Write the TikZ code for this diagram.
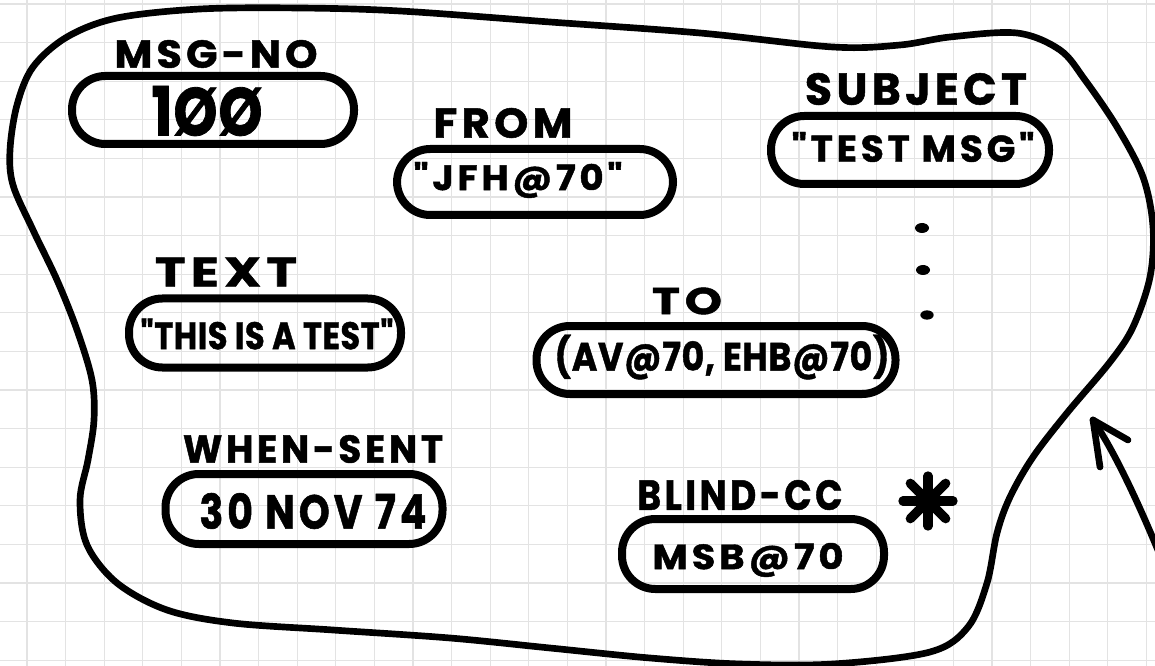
\documentclass[tikz,border=0pt]{standalone}
\usepackage{fontspec}
\usepackage{graphicx}
\newfontfamily\hand{Poppins}[LetterSpace=10, BoldFeatures={FakeBold=1.2}]
\newfontfamily\handn{Poppins}[LetterSpace=2, BoldFeatures={FakeBold=1.2}]
\newdimen\pxu \pxu=0.75pt
\newcommand\fitt[3]{\resizebox*{#1\pxu}{#2\pxu}{\hand\bfseries #3}}
\newcommand\fitn[3]{\resizebox*{#1\pxu}{#2\pxu}{\handn\bfseries #3}}
\tikzset{
  gridline/.style={draw=gray!22, line width=0.9pt},
  blob/.style={draw=black, line width=5pt, line join=round},
  pill/.style 2 args={draw=black, line width=6pt, rounded corners=25pt,
    minimum width={(#1-8)*0.75pt}, minimum height={(#2-8)*0.75pt}, inner sep=0pt},
  txt/.style={inner sep=0pt, outer sep=0pt},
  stroke/.style={draw=black, line width=5pt, line cap=round, line join=round},
}
\begin{document}
\begin{tikzpicture}[x=0.75pt,y=-0.75pt]
\useasboundingbox (0,0) rectangle (1155,666);
\fill[white] (0,0) rectangle (1155,666);
% graph paper
\foreach \i in {0,...,29} \draw[gridline] ({27+38.6*\i},0) -- ({27+38.6*\i},666);
\foreach \j in {0,...,17} \draw[gridline] (0,{4+38.6*\j}) -- (1155,{4+38.6*\j});
% outline of the record
\draw[blob] plot[smooth cycle, tension=0.55] coordinates {
 (10,150) (13,185) (33,230) (57,280) (77,330) (92,380) (94,420) (88,460) (80,500)
 (87,545) (117,583) (167,610) (233,623) (333,630) (450,638) (550,648) (650,658)
 (740,664) (833,664) (930,652) (968,627) (987,583) (997,533) (1010,497) (1033,457)
 (1067,413) (1110,362) (1133,327) (1150,277) (1153,227) (1143,177) (1117,127)
 (1085,80) (1060,50) (1017,33) (950,37) (900,45) (833,47) (700,33) (550,22)
 (400,11) (300,8) (200,9) (117,18) (67,37) (33,67) (17,105)};
% fields
\node[txt] (lmsg) at (216,54) {\fitt{203}{28}{MSG-NO}};
\node[pill={290}{76}] (bmsg) at (213,110) {};
\node[txt] (vmsg) at (207,111) {\fitn{111}{50}{1ØØ}};
\node[txt] (lfrom) at (503,123) {\fitt{139}{30}{FROM}};
\node[pill={284}{74}] (bfrom) at (535,182) {};
\node[txt] (vfrom) at (518,180) {\fitt{209}{36}{"JFH@70"}};
\node[txt] (lsubj) at (916,89) {\fitt{222}{32}{SUBJECT}};
\node[pill={286}{76}] (bsubj) at (910,150) {};
\node[txt] (vsubj) at (913,147) {\fitt{243}{30}{"TEST MSG"}};
\node[txt] (ltext) at (226,272) {\fitt{142}{29}{TEXT}};
\node[pill={280}{77}] (btext) at (265,333) {};
\node[txt] (vtext) at (267,334) {\fitn{253}{31}{"THIS IS A TEST"}};
\node[txt] (lwhen) at (313,449) {\fitt{260}{28}{WHEN-SENT}};
\node[pill={285}{78}] (bwhen) at (304,509) {};
\node[txt] (vwhen) at (313,511) {\fitt{227}{36}{30 NOV 74}};
\node[txt] (lto) at (687,301) {\fitt{70}{27}{TO}};
\node[pill={367}{76}] (bto) at (716,360) {};
\node[txt] (vto) at (722,357) {\fitn{335}{45}{(AV@70, EHB@70)}};
\node[txt] (lbcc) at (740,495) {\fitt{205}{30}{BLIND-CC}};
\node[pill={270}{78}] (bbcc) at (753,554) {};
\node[txt] (vbcc) at (748,560) {\fitt{191}{34}{MSB@70}};
% ellipsis dots
\fill (922,228) ellipse [x radius=5.25pt, y radius=3.75pt];
\fill (923,270) ellipse [x radius=5.25pt, y radius=3.75pt];
\fill (927,315) ellipse [x radius=5pt, y radius=3.5pt];
% asterisk
\coordinate (ast) at (928,501);
\foreach \a in {0,45,90,135}
  \draw[line width=7pt, line cap=round] (ast) ++(\a:25) -- ++(\a+180:50);
% arrow pointing at the outline
\coordinate (arrS) at (1162,560);
\coordinate (arrT) at (1093,420);
\draw[stroke] (arrS) .. controls (1130,482) and (1108,442) .. (arrT);
\draw[stroke] (arrT) -- (1100,467);
\draw[stroke] (arrT) -- (1128,440);
\end{tikzpicture}
\end{document}
